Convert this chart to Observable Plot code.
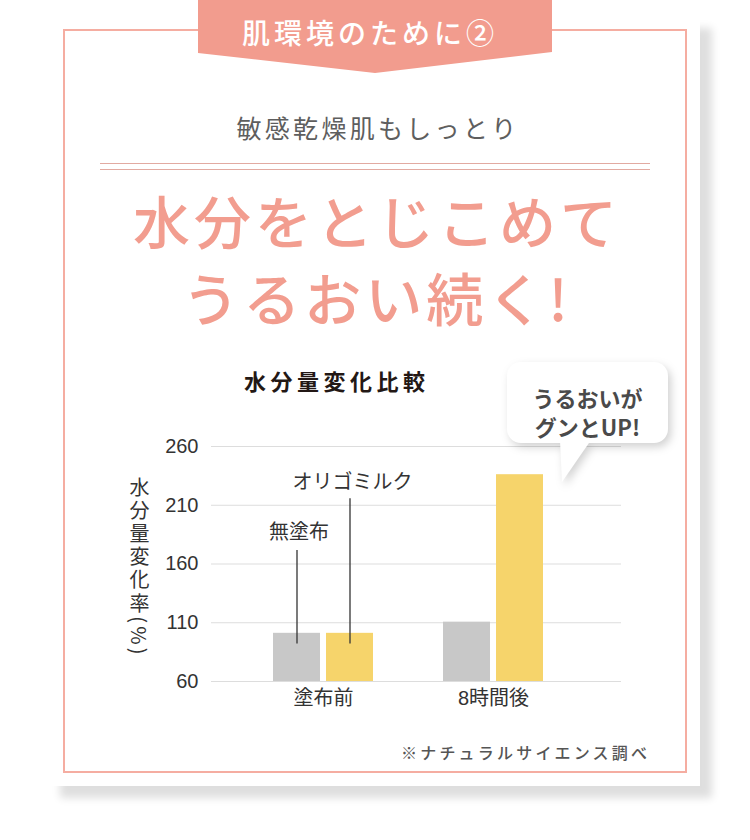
<!DOCTYPE html>
<html><head><meta charset="utf-8">
<script src="https://cdn.jsdelivr.net/npm/d3@7"></script>
<script src="https://cdn.jsdelivr.net/npm/@observablehq/plot@0.6"></script>
<style>
body{margin:0;background:#fff;font-family:"Noto Sans CJK JP","Noto Sans",sans-serif;}
#page{position:relative;width:750px;height:840px;overflow:hidden;background:#fff;}
.abs{position:absolute;}
#card{left:48px;top:16px;width:652px;height:770px;background:#fff;box-shadow:12px 12px 8px rgba(0,0,0,0.13);}
#frame{left:63px;top:29px;width:624px;height:744px;box-sizing:border-box;border:2px solid #f5ada1;}
#tab{left:198px;top:0;width:354px;height:73px;background:#f29c8e;clip-path:polygon(0 0,100% 0,100% 52px,177px 73px,0 53px);}
#tabtext{left:198px;top:14px;width:344px;text-align:center;color:#fff;font-size:28px;line-height:36px;font-weight:500;letter-spacing:4px;}
#sub{left:0;width:756px;top:111px;text-align:center;color:#5e5e5e;font-size:25px;line-height:32px;letter-spacing:3.3px;}
.hr{left:100px;width:550px;height:1px;background:#e2aaa1;}
#head{left:0;width:754px;top:181px;text-align:center;color:#f29d8f;font-size:57px;line-height:77px;font-weight:500;letter-spacing:4px;}
#ctitle{left:244px;top:365px;color:#231815;font-size:22px;line-height:30px;font-weight:700;letter-spacing:4.5px;white-space:nowrap;}
#ylab{left:129px;top:477px;width:20px;writing-mode:vertical-rl;text-orientation:mixed;font-size:20px;line-height:20px;letter-spacing:3.2px;color:#333;white-space:nowrap;}
#chart{left:0;top:420px;}
#bubble{left:507px;top:362px;width:161px;height:121px;filter:drop-shadow(3px 4px 4px rgba(0,0,0,0.18));}
#bbox{position:absolute;left:0;top:0;width:161px;height:81px;border-radius:14px;background:#fff;}
#btail{position:absolute;left:0;top:0;width:161px;height:121px;background:#fff;clip-path:polygon(53px 78px,84px 78px,55px 120px);}
#btext{left:507px;top:383px;width:161px;text-align:center;color:#4a4a4a;font-size:22px;line-height:29px;font-weight:700;}
#cap{left:401px;top:740px;color:#555;font-size:16px;line-height:24px;font-weight:500;letter-spacing:3.2px;white-space:nowrap;}
</style></head><body>
<div id="page">
  <div class="abs" id="card"></div>
  <div class="abs" id="frame"></div>
  <div class="abs" id="tab"></div>
  <div class="abs" id="tabtext">肌環境のために②</div>
  <div class="abs" id="sub">敏感乾燥肌もしっとり</div>
  <div class="abs hr" style="top:163px"></div>
  <div class="abs hr" style="top:169px"></div>
  <div class="abs" id="head">水分をとじこめて<br>うるおい続く!</div>
  <div class="abs" id="ctitle">水分量変化比較</div>
  <div class="abs" id="chart"></div>
  <div class="abs" id="ylab">水分量変化率(%)</div>
  <div class="abs" id="bubble"><div id="bbox"></div><div id="btail"></div></div>
  <div class="abs" id="btext">うるおいが<br>グンとUP!</div>
  <div class="abs" id="cap">※ナチュラルサイエンス調べ</div>
</div>
<script>
// ---- data ----
const groups = ["塗布前", "8時間後"];
const seriesNames = ["無塗布", "オリゴミルク"];
const valuesNone = [101, 110.5];
const valuesOligo = [101, 236];
const yTicks = [60, 110, 160, 210, 260];
const yDomain = [60, 260];
const seriesColors = ["#c8c8c8", "#f6d46b"];
// annotation leader lines (data units)
const annGroup = "塗布前";
const annBottom = [92, 92];
const annTop = [171.5, 215.5];
const annLabelY = [187, 229.5];

const data = groups.flatMap((g, i) => [
  {group: g, series: seriesNames[0], value: valuesNone[i]},
  {group: g, series: seriesNames[1], value: valuesOligo[i]}
]);
const ann = seriesNames.map((s, i) => ({group: annGroup, label: s, y1: annBottom[i], y2: annTop[i], ly: annLabelY[i]}));

const plot = Plot.plot({
  width: 750,
  height: 301,
  marginLeft: 211,
  marginRight: 129,
  marginTop: 26,
  marginBottom: 40,
  style: {fontFamily: '"Liberation Sans","Noto Sans CJK JP",sans-serif', fontSize: "20px", color: "#333", background: "transparent", overflow: "visible"},
  x: {domain: groups, range: [273, 543], paddingInner: 70 / 170, paddingOuter: 0, label: null},
  y: {domain: yDomain, label: null},
  color: {domain: seriesNames, range: seriesColors},
  marks: [
    Plot.gridY(yTicks, {stroke: "#dddddd", strokeOpacity: 1}),
    Plot.barY(data.filter(d => d.series === seriesNames[0]), {x: "group", y1: yDomain[0], y2: "value", fill: "series", insetRight: 53}),
    Plot.barY(data.filter(d => d.series === seriesNames[1]), {x: "group", y1: yDomain[0], y2: "value", fill: "series", insetLeft: 53}),
    Plot.axisY(yTicks, {tickSize: 0, tickPadding: 13, fontSize: 20, label: null}),
    Plot.axisX({tickSize: 0, tickPadding: 9, fontSize: 20, label: null}),
    Plot.ruleX([ann[0]], {x: "group", y1: "y1", y2: "y2", dx: -26.5, stroke: "#333", strokeWidth: 1.3}),
    Plot.ruleX([ann[1]], {x: "group", y1: "y1", y2: "y2", dx: 26.5, stroke: "#333", strokeWidth: 1.3}),
    Plot.text([ann[0]], {x: "group", y: "ly", text: "label", dx: -24.5, fontSize: 20, fill: "#333"}),
    Plot.text([ann[1]], {x: "group", y: "ly", text: "label", dx: 29, fontSize: 20, fill: "#333"})
  ]
});
document.getElementById("chart").appendChild(plot);
</script>
</body></html>
